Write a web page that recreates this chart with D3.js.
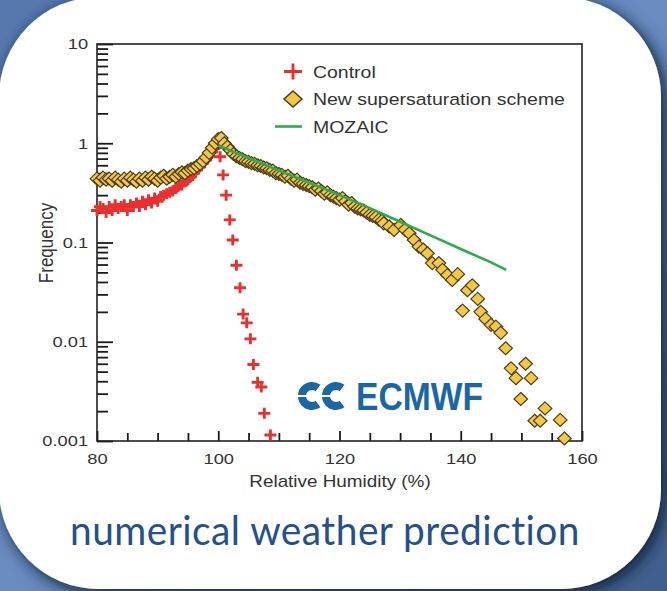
<!DOCTYPE html>
<meta charset="utf-8">
<html>
<script src="https://d3js.org/d3.v7.min.js"></script>
<style>
  body { margin: 0; overflow: hidden; }
</style>
<div id="chart"></div>
<script>

// ---- data ----
var controlRH = [80, 80.5, 81, 81.5, 82, 82.5, 83, 83.5, 84, 84.5, 85, 85.5, 86, 86.5, 87, 87.5, 88, 88.5, 89, 89.5,
  90, 90.5, 91, 91.5, 92, 92.5, 93, 93.5, 94, 94.5, 95, 95.5, 96, 96.5, 97, 97.5, 98, 98.5, 99, 99.5, 100,
  100.3, 100.8, 101.3, 101.9, 102.4, 103.0, 103.6, 104.1, 104.7, 105.3, 105.8, 106.5, 107.1, 107.6, 108.6];
var controlFreq = [0.21, 0.23, 0.22, 0.20, 0.23, 0.21, 0.24, 0.22, 0.23, 0.24, 0.21, 0.24, 0.23, 0.25, 0.23, 0.26, 0.24, 0.27, 0.25, 0.28,
  0.26, 0.29, 0.30, 0.31, 0.32, 0.33, 0.35, 0.37, 0.38, 0.41, 0.43, 0.46, 0.50, 0.54, 0.58, 0.63, 0.68, 0.75, 0.82, 0.90, 0.97,
  0.73, 0.48, 0.30, 0.169, 0.106, 0.059, 0.035, 0.019, 0.0155, 0.0107, 0.0059, 0.0039, 0.0035, 0.0019, 0.00115];

var schemeRH = [80, 80.5, 81, 81.5, 82, 82.5, 83, 83.5, 84, 84.5, 85, 85.5, 86, 86.5, 87, 87.5, 88, 88.5, 89, 89.5,
  90, 90.5, 91, 91.5, 92, 92.5, 93, 93.5, 94, 94.5, 95, 95.5, 96, 96.5, 97, 97.5, 98, 98.5, 99, 99.5, 100,
  100.5, 101, 101.5, 102, 102.5, 103, 103.5, 104, 104.5, 105, 105.5, 106, 106.5, 107, 107.5, 108, 108.5, 109, 109.5, 110,
  110.5, 111, 111.5, 112, 112.5, 113, 113.5, 114, 114.5, 115, 115.5, 116, 116.5, 117, 117.5, 118, 118.5, 119, 119.5, 120,
  120.5, 121, 121.5, 122, 122.5, 123, 123.5, 124, 124.5, 125, 125.5, 126, 126.5, 127,
  127.3, 128.2, 129.0, 130.1, 130.8, 131.5, 132.3, 133.1, 133.8, 134.5, 135.3, 136.4, 137.0, 137.8, 138.6, 139.5,
  140.3, 141.1, 141.9, 142.8, 143.3, 144.1, 145.0, 145.8, 146.6, 147.4, 148.3, 149.1, 149.9, 150.7, 151.6, 152.2,
  153.1, 153.9, 156.4, 157.1];
var schemeFreq = [0.44, 0.42, 0.45, 0.43, 0.44, 0.42, 0.45, 0.43, 0.41, 0.44, 0.42, 0.45, 0.43, 0.41, 0.44, 0.42, 0.45, 0.43, 0.46, 0.44,
  0.42, 0.45, 0.47, 0.44, 0.46, 0.48, 0.46, 0.49, 0.51, 0.50, 0.53, 0.55, 0.56, 0.59, 0.62, 0.66, 0.72, 0.80, 0.90, 1.00, 1.10,
  1.13, 1.00, 0.92, 0.85, 0.78, 0.74, 0.71, 0.69, 0.66, 0.65, 0.63, 0.62, 0.60, 0.59, 0.57, 0.56, 0.54, 0.53, 0.50, 0.49,
  0.48, 0.46, 0.47, 0.44, 0.42, 0.43, 0.40, 0.39, 0.38, 0.37, 0.36, 0.34, 0.35, 0.33, 0.31, 0.32, 0.30, 0.29, 0.28, 0.27,
  0.28, 0.26, 0.24, 0.25, 0.23, 0.22, 0.215, 0.21, 0.20, 0.19, 0.185, 0.18, 0.17, 0.165,
  0.156, 0.145, 0.134, 0.150, 0.135, 0.124, 0.106, 0.091, 0.085, 0.078, 0.062, 0.062, 0.053, 0.047, 0.042, 0.048,
  0.0206, 0.033, 0.037, 0.027, 0.020, 0.017, 0.0148, 0.0142, 0.0123, 0.0086, 0.0054, 0.0043, 0.00265, 0.0060, 0.0043, 0.0016,
  0.0016, 0.00213, 0.00163, 0.00106];

var mozaicRH = [100, 105, 110, 115, 120, 125, 130, 135, 140, 145, 147.5];
var mozaicFreq = [0.95, 0.71, 0.53, 0.40, 0.30, 0.222, 0.162, 0.118, 0.086, 0.063, 0.053];

var xTicks = [80, 100, 120, 140, 160];
var xMinorTicks = [85, 90, 95, 105, 110, 115, 125, 130, 135, 145, 150, 155];
var yTicks = [0.001, 0.01, 0.1, 1, 10];
var legendNames = ["Control", "New supersaturation scheme", "MOZAIC"];

// ---- page ----
var width = 667, height = 591;
var stretch = 1.18;   // the source figure is a bit wider than tall

var svg = d3.select("#chart").append("svg")
    .attr("width", width)
    .attr("height", height);

var defs = svg.append("defs");
var shadow = defs.append("filter").attr("id", "shadow")
    .attr("x", "-10%").attr("y", "-10%").attr("width", "120%").attr("height", "120%");
shadow.append("feDropShadow")
    .attr("dx", 4).attr("dy", 4)
    .attr("stdDeviation", 8)
    .attr("flood-color", "#0f1b33")
    .attr("flood-opacity", 1);

var bg = defs.append("linearGradient").attr("id", "bg")
    .attr("x1", 0).attr("y1", 0).attr("x2", 1).attr("y2", 1);
bg.append("stop").attr("offset", "0%").attr("stop-color", "#5577ad");
bg.append("stop").attr("offset", "50%").attr("stop-color", "#6a8cc1");
bg.append("stop").attr("offset", "100%").attr("stop-color", "#3f5d8c");

svg.append("rect")
    .attr("width", width).attr("height", height)
    .attr("fill", "url(#bg)");

svg.append("rect")
    .attr("x", -1).attr("y", -3)
    .attr("width", 662).attr("height", 592)
    .attr("rx", 100).attr("ry", 100)
    .attr("fill", "#ffffff")
    .attr("filter", "url(#shadow)");

// ---- scales ----
var plot = {left: 97, right: 582, top: 44, bottom: 441};

var x = d3.scaleLinear().domain([80, 160]).range([plot.left, plot.right]);
var y = d3.scaleLog().domain([0.001, 10]).range([plot.bottom, plot.top]);

var g = svg.append("g");

// ---- axes ----
var yMinor = [];
yTicks.forEach(function(d) {
  if (d < 10) [2, 3, 4, 5, 6, 7, 8, 9].forEach(function(k) { yMinor.push(d * k); });
});

g.append("g")
    .attr("transform", "translate(0," + plot.bottom + ")")
    .call(d3.axisBottom(x).tickValues(xMinorTicks).tickSizeInner(-8).tickSizeOuter(0).tickFormat(""))
    .call(function(a) { a.select(".domain").remove(); });

var xAxis = g.append("g")
    .attr("transform", "translate(0," + plot.bottom + ")")
    .call(d3.axisBottom(x).tickValues(xTicks).tickSizeInner(-10).tickSizeOuter(0).tickPadding(12).tickFormat(d3.format("d")));
xAxis.select(".domain").remove();

g.append("g")
    .attr("transform", "translate(" + plot.left + ",0)")
    .call(d3.axisLeft(y).tickValues(yMinor).tickSizeInner(-11).tickSizeOuter(0).tickFormat(""))
    .call(function(a) { a.select(".domain").remove(); });

var yAxis = g.append("g")
    .attr("transform", "translate(" + plot.left + ",0)")
    .call(d3.axisLeft(y).tickValues(yTicks).tickSizeInner(-16).tickSizeOuter(0).tickPadding(7.6)
      .tickFormat(function(d) { return d3.format("~g")(d); }));
yAxis.select(".domain").remove();

g.selectAll(".tick line").attr("stroke", "#1a1a1a").attr("stroke-width", 1.8);
g.selectAll(".tick text")
    .attr("fill", "#333")
    .style("font-family", "Liberation Sans, Arial, sans-serif")
    .style("font-size", "15.5px")
    .attr("transform", "scale(" + stretch + ",1)");

// frame
g.append("rect")
    .attr("x", plot.left).attr("y", plot.top)
    .attr("width", plot.right - plot.left).attr("height", plot.bottom - plot.top)
    .attr("fill", "none")
    .attr("stroke", "#222")
    .attr("stroke-width", 1.6);

// axis titles
g.append("text")
    .attr("transform", "translate(340,487) scale(" + stretch + ",1)")
    .attr("text-anchor", "middle")
    .attr("fill", "#333")
    .style("font-family", "Liberation Sans, Arial, sans-serif")
    .style("font-size", "16px")
    .text("Relative Humidity (%)");

g.append("text")
    .attr("transform", "translate(53,243) scale(" + stretch + ",1) rotate(-90)")
    .attr("text-anchor", "middle")
    .attr("fill", "#333")
    .style("font-family", "Liberation Sans, Arial, sans-serif")
    .style("font-size", "17px")
    .text("Frequency");

// ---- marks ----
var plusPath = "M-6,0H6M0,-5.5V5.5";
var diamondPath = "M0,-6.5L6.8,0L0,6.5L-6.8,0Z";

g.append("g").selectAll("path")
    .data(controlRH.map(function(d, i) { return [d, controlFreq[i]]; }))
    .enter().append("path")
    .attr("d", plusPath)
    .attr("transform", function(d) { return "translate(" + x(d[0]) + "," + y(d[1]) + ")"; })
    .attr("stroke", "#e8302e")
    .attr("stroke-width", 2.9)
    .attr("fill", "none");

g.append("g").selectAll("path")
    .data(schemeRH.map(function(d, i) { return [d, schemeFreq[i]]; }))
    .enter().append("path")
    .attr("d", diamondPath)
    .attr("transform", function(d) { return "translate(" + x(d[0]) + "," + y(d[1]) + ")"; })
    .attr("fill", "#f5c843")
    .attr("stroke", "#4a3c1c")
    .attr("stroke-width", 1.2);

var line = d3.line()
    .x(function(d) { return x(d[0]); })
    .y(function(d) { return y(d[1]); });

g.append("path")
    .datum(mozaicRH.map(function(d, i) { return [d, mozaicFreq[i]]; }))
    .attr("d", line)
    .attr("fill", "none")
    .attr("stroke", "#2faa4c")
    .attr("stroke-width", 2.6);

// ---- legend ----
var legend = g.selectAll(".legend")
    .data(legendNames)
    .enter().append("g")
    .attr("class", "legend")
    .attr("transform", function(d, i) { return "translate(293," + (71.5 + i * 27.5) + ")"; });

legend.each(function(d, i) {
  var s = d3.select(this);
  if (i == 0) {
    s.append("path").attr("d", "M-9,0H9M0,-8V8").attr("stroke", "#e8302e").attr("stroke-width", 2.9);
  } else if (i == 1) {
    s.append("path").attr("d", "M0,-8L9,0L0,8L-9,0Z").attr("fill", "#f5c843").attr("stroke", "#4a3c1c").attr("stroke-width", 1.5);
  } else {
    s.append("line").attr("x1", -18).attr("x2", 9).attr("stroke", "#2faa4c").attr("stroke-width", 2.6);
  }
});

legend.append("text")
    .attr("transform", "translate(20,6) scale(" + stretch + ",1)")
    .attr("fill", "#333")
    .style("font-family", "Liberation Sans, Arial, sans-serif")
    .style("font-size", "16.5px")
    .text(function(d) { return d; });

// ---- ECMWF logo ----
var logo = g.append("g").attr("transform", "translate(296,382)");
logo.append("path")
    .attr("d", "M22,6 A10,10 0 1 0 22,22")
    .attr("fill", "none").attr("stroke", "#1b67a4").attr("stroke-width", 8);
logo.append("path")
    .attr("d", "M46,6 A10,10 0 1 0 46,22")
    .attr("fill", "none").attr("stroke", "#1b67a4").attr("stroke-width", 8);
logo.append("line")
    .attr("x1", 0).attr("x2", 34).attr("y1", 14).attr("y2", 14)
    .attr("stroke", "#ffffff").attr("stroke-width", 2);
logo.append("text")
    .attr("x", 60).attr("y", 28)
    .attr("textLength", 127)
    .attr("lengthAdjust", "spacingAndGlyphs")
    .attr("fill", "#1b67a4")
    .style("font-family", "Liberation Sans, Arial, sans-serif")
    .style("font-weight", "bold")
    .style("font-size", "39px")
    .text("ECMWF");

// ---- caption ----
svg.append("text")
    .attr("x", 70).attr("y", 545)
    .attr("textLength", 510)
    .attr("lengthAdjust", "spacingAndGlyphs")
    .attr("fill", "#24508c")
    .style("font-family", "Lato, sans-serif")
    .style("font-size", "40px")
    .style("letter-spacing", "0.5px")
    .style("font-variant-ligatures", "none")
    .style("font-feature-settings", "'liga' 0, 'dlig' 0")
    .text("numerical weather prediction");

</script>
</html>
